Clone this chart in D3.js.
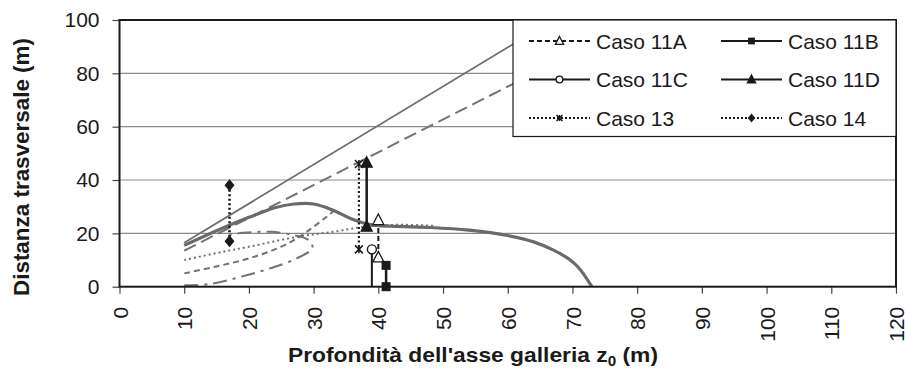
<!DOCTYPE html>
<html>
<head>
<meta charset="utf-8">
<script src="https://cdn.jsdelivr.net/npm/d3@7"></script>
<style>
  body { margin: 0; background: #fff; }
  svg { display: block; font-family: "Liberation Sans", Arial, sans-serif; }
</style>
</head>
<body>
<div id="chart"></div>
<script>
// gray envelope curves (no legend)
const thinLine = [[10, 16.5], [67, 100]]
const longDashLine = [[10, 13.5], [80.3, 100]]
const thickCurve = [[10, 15.5], [15, 21], [20, 26], [24, 29.6], [27, 31], [30, 31], [33, 28.7], [36, 25.3], [39, 23.2], [43, 22.6], [48, 22.2], [54, 21.2], [60, 19.2], [64, 16.8], [67, 13.8], [69.5, 10.3], [71, 7], [73, 0]]
const shortDashCurve = [[10, 5], [15, 7.6], [20, 10.6], [25, 15], [28, 19], [30, 22.5], [32, 26.2], [33.6, 29.5]]
const dashDotCurve = [[10, 0.5], [14, 1], [18.7, 3.7], [23.3, 6.9], [27.4, 10.6], [29.8, 14.5], [29.3, 17.4], [26.4, 19.6], [23.3, 20.6], [19.7, 20.3], [17, 19.6]]
const dottedCurve = [[10, 10], [15, 12.6], [20, 15], [27.5, 18.7], [33, 20.6], [38, 22.5], [43, 23.2], [49, 22.8]]

// legend series
const caso11A = [[40, 25], [40, 11]]
const caso11B = [[41.2, 8], [41.2, 0]]
const caso11C = [[39, 14], [39, 0]]
const caso11D = [[38.2, 46.5], [38.2, 22.5]]
const caso13 = [[37, 46], [37, 14]]
const caso14 = [[17, 38], [17, 17]]

const xTicks = [0, 10, 20, 30, 40, 50, 60, 70, 80, 90, 100, 110, 120]
const yTicks = [0, 20, 40, 60, 80, 100]
const xTitle = "Profondità dell'asse galleria z"
const yTitle = "Distanza trasversale (m)"

const W = 905, H = 374
const svg = d3.select("#chart").append("svg").attr("width", W).attr("height", H)

const x = d3.scaleLinear().domain([0, 120]).range([119.5, 896])
const y = d3.scaleLinear().domain([0, 100]).range([286.7, 20])

// grid
svg.append("g").selectAll("line.grid")
    .data(yTicks.filter(d => d > 0 && d < 100))
    .enter().append("line")
    .attr("class", "grid")
    .attr("x1", x(0)).attr("x2", x(120))
    .attr("y1", d => y(d)).attr("y2", d => y(d))
    .attr("stroke", "#8a8a8a").attr("stroke-width", 1.2)

svg.append("defs").append("clipPath").attr("id", "plotclip")
    .append("rect")
    .attr("x", x(0)).attr("y", y(100))
    .attr("width", x(120) - x(0)).attr("height", y(0) - y(100))

const smooth = d3.line().x(d => x(d[0])).y(d => y(d[1])).curve(d3.curveCatmullRom.alpha(0.5))
const straight = d3.line().x(d => x(d[0])).y(d => y(d[1]))

const grayCurves = [
    {data: thinLine, color: "#6f6f6f", width: 1.8, dash: null},
    {data: longDashLine, color: "#737373", width: 2, dash: "13,6"},
    {data: shortDashCurve, color: "#737373", width: 2, dash: "6,4"},
    {data: dashDotCurve, color: "#737373", width: 2, dash: "14,6,3,6"},
    {data: dottedCurve, color: "#737373", width: 2, dash: "2,3"},
    {data: thickCurve, color: "#6a6a6a", width: 3.2, dash: null}
]

const gCurves = svg.append("g").attr("clip-path", "url(#plotclip)")
grayCurves.forEach(c => {
    gCurves.append("path")
        .attr("d", smooth(c.data))
        .attr("fill", "none")
        .attr("stroke", c.color)
        .attr("stroke-width", c.width)
        .attr("stroke-dasharray", c.dash)
})

// markers
function drawMarker(g, type, cx, cy, s) {
    const ink = "#1a1a1a"
    if (type === "triangleOpen" || type === "triangle") {
        g.append("path")
            .attr("d", `M${cx},${cy - s * 0.6}L${cx + s * 0.55},${cy + s * 0.45}L${cx - s * 0.55},${cy + s * 0.45}Z`)
            .attr("fill", type === "triangle" ? ink : "#fff")
            .attr("stroke", ink).attr("stroke-width", 1.3)
    } else if (type === "square") {
        g.append("rect").attr("x", cx - s / 2).attr("y", cy - s / 2)
            .attr("width", s).attr("height", s).attr("fill", ink)
    } else if (type === "circleOpen") {
        g.append("circle").attr("cx", cx).attr("cy", cy).attr("r", s / 2)
            .attr("fill", "#fff").attr("stroke", ink).attr("stroke-width", 1.4)
    } else if (type === "diamond") {
        g.append("path")
            .attr("d", `M${cx},${cy - s * 0.6}L${cx + s * 0.5},${cy}L${cx},${cy + s * 0.6}L${cx - s * 0.5},${cy}Z`)
            .attr("fill", ink)
    } else if (type === "star") {
        const r = s / 2
        g.append("path")
            .attr("d", `M${cx - r},${cy - r}L${cx + r},${cy + r}M${cx + r},${cy - r}L${cx - r},${cy + r}M${cx},${cy - r}L${cx},${cy + r}`)
            .attr("stroke", ink).attr("stroke-width", 1.5).attr("fill", "none")
    }
}

const series = [
    {name: "Caso 11A", data: caso11A, dash: "5,3", width: 2, marker: "triangleOpen", size: 10, at: [0, 1]},
    {name: "Caso 11B", data: caso11B, dash: null, width: 2.5, marker: "square", size: 9, at: [0, 1]},
    {name: "Caso 11C", data: caso11C, dash: null, width: 2, marker: "circleOpen", size: 9, at: [0]},
    {name: "Caso 11D", data: caso11D, dash: null, width: 2.5, marker: "triangle", size: 10, at: [0, 1]},
    {name: "Caso 13", data: caso13, dash: "2,2.5", width: 2.2, marker: "star", size: 8, at: [0, 1]},
    {name: "Caso 14", data: caso14, dash: "2,2.5", width: 2.6, marker: "diamond", size: 10, at: [0, 1]}
]

const gSeries = svg.append("g")
series.forEach(s => {
    gSeries.append("path")
        .attr("d", straight(s.data))
        .attr("fill", "none")
        .attr("stroke", "#1a1a1a")
        .attr("stroke-width", s.width)
        .attr("stroke-dasharray", s.dash)
})
series.forEach(s => {
    s.at.forEach(i => drawMarker(gSeries, s.marker, x(s.data[i][0]), y(s.data[i][1]), s.size))
})

// axes
const xAxis = svg.append("g")
    .attr("transform", `translate(0,${y(0)})`)
    .call(d3.axisBottom(x).tickValues(xTicks).tickSize(7).tickSizeOuter(0).tickFormat(d3.format("d")))
xAxis.select(".domain").remove()
xAxis.selectAll(".tick line").attr("stroke", "#444").attr("stroke-width", 1.2)
xAxis.selectAll(".tick text")
    .attr("font-size", 21)
    .attr("fill", "#1a1a1a")
    .attr("font-family", "Liberation Sans, Arial, sans-serif")
    .attr("text-anchor", "end")
    .attr("transform", "rotate(-90)")
    .attr("x", -20).attr("y", 0).attr("dy", "0.36em")

const yAxis = svg.append("g")
    .attr("transform", `translate(${x(0)},0)`)
    .call(d3.axisLeft(y).tickValues(yTicks).tickSize(7).tickSizeOuter(0).tickPadding(13))
yAxis.select(".domain").remove()
yAxis.selectAll(".tick line").attr("stroke", "#444").attr("stroke-width", 1.2)
yAxis.selectAll(".tick text").attr("font-size", 21).attr("fill", "#1a1a1a").attr("font-family", "Liberation Sans, Arial, sans-serif")

// frame
svg.append("rect")
    .attr("x", x(0)).attr("y", y(100))
    .attr("width", x(120) - x(0)).attr("height", y(0) - y(100))
    .attr("fill", "none").attr("stroke", "#1a1a1a").attr("stroke-width", 2)

// legend
const lg = svg.append("g")
lg.append("rect")
    .attr("x", 513).attr("y", 20)
    .attr("width", x(120) - 513).attr("height", 116.5)
    .attr("fill", "#fff").attr("stroke", "#1a1a1a").attr("stroke-width", 1.2)

series.forEach((s, i) => {
    const col = i % 2, row = Math.floor(i / 2)
    const lx = col === 0 ? 529 : 721
    const ly = 41 + row * 38.5
    lg.append("line")
        .attr("x1", lx).attr("x2", lx + 61).attr("y1", ly).attr("y2", ly)
        .attr("stroke", "#1a1a1a").attr("stroke-width", s.dash ? 2 : 2.2)
        .attr("stroke-dasharray", s.dash ? (s.dash === "5,3" ? "5,3" : "2,2") : null)
    drawMarker(lg, s.marker, lx + 30.5, ly, s.size * 0.75)
    lg.append("text")
        .attr("x", lx + 67).attr("y", ly + 7.5)
        .attr("font-size", 21).attr("fill", "#1a1a1a")
        .text(s.name)
})

// titles
const xt = svg.append("text")
    .attr("x", 473).attr("y", 361.5)
    .attr("text-anchor", "middle")
    .attr("font-size", 21).attr("font-weight", "bold").attr("fill", "#1a1a1a")
    .attr("textLength", 370).attr("lengthAdjust", "spacingAndGlyphs")
xt.append("tspan").text(xTitle)
xt.append("tspan").attr("font-size", 14).attr("dy", 4).text("0")
xt.append("tspan").attr("dy", -4).text(" (m)")

svg.append("text")
    .attr("transform", "translate(28.5,167) rotate(-90)")
    .attr("text-anchor", "middle")
    .attr("font-size", 22).attr("font-weight", "bold").attr("fill", "#1a1a1a")
    .attr("textLength", 258).attr("lengthAdjust", "spacingAndGlyphs")
    .text(yTitle)
</script>
</body>
</html>
